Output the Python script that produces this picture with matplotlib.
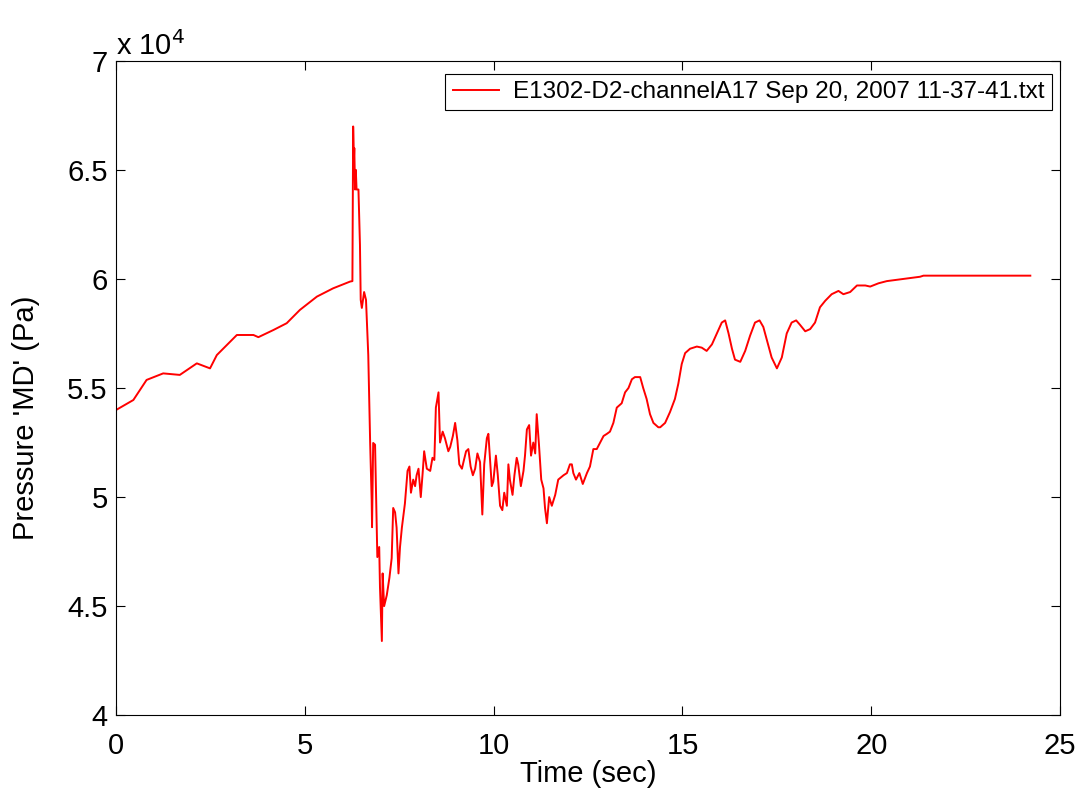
import numpy as np
import matplotlib
matplotlib.use("Agg")
import matplotlib.pyplot as plt
from matplotlib.ticker import FuncFormatter

# readings (time in s, pressure in Pa)
t_pre = [0.0, 0.46, 0.81, 1.25, 1.69, 2.14, 2.49, 2.67, 3.20, 3.64, 3.77, 4.17,
         4.52, 4.87, 5.32, 5.75, 6.20, 6.26]
p_pre = [53990, 54450, 55370, 55670, 55600, 56130, 55900, 56510, 57430, 57430, 57330, 57660,
         57970, 58580, 59190, 59570, 59880, 59900]

t_spike = [6.28, 6.30, 6.31, 6.33, 6.35, 6.37, 6.42, 6.46, 6.48, 6.51, 6.57, 6.62,
           6.68, 6.73, 6.77, 6.78, 6.81, 6.86, 6.89, 6.92, 6.97, 6.99, 7.04, 7.06,
           7.10, 7.17, 7.24, 7.30, 7.34, 7.39, 7.43, 7.48, 7.52, 7.57, 7.65]
p_spike = [66990, 65500, 66000, 64100, 65000, 64100, 64100, 61560, 59040, 58670, 59400, 59040,
           56510, 52480, 49860, 48620, 52480, 52400, 49860, 47250, 47710, 45870, 43400, 46500,
           45000, 45500, 46300, 47200, 49500, 49300, 48600, 46500, 47700, 48600, 49700]

t_noisy = [7.72, 7.77, 7.81, 7.87, 7.92, 7.96, 8.01, 8.07, 8.12, 8.16, 8.23, 8.32,
           8.38, 8.43, 8.47, 8.54, 8.58, 8.65, 8.71, 8.80, 8.85, 8.92, 8.98, 9.04,
           9.09, 9.16, 9.20, 9.27, 9.33, 9.39, 9.45, 9.51, 9.57, 9.64, 9.70, 9.75,
           9.82, 9.86, 9.90, 9.95, 9.99, 10.06, 10.11, 10.17, 10.23, 10.28, 10.35, 10.39,
           10.43, 10.50, 10.55, 10.61, 10.65, 10.72, 10.79, 10.83, 10.88, 10.94, 10.99, 11.05,
           11.10, 11.14, 11.20, 11.26, 11.32, 11.36, 11.41, 11.47, 11.54, 11.63]
p_noisy = [51200, 51400, 50200, 50800, 50500, 51000, 51300, 50000, 51100, 52100, 51300, 51200,
           51800, 51700, 54100, 54800, 52500, 53000, 52700, 52100, 52300, 52800, 53400, 52600,
           51500, 51300, 51600, 52100, 52200, 51400, 51000, 51300, 52000, 51600, 49200, 51500,
           52700, 52900, 51800, 50500, 50700, 51900, 51000, 49600, 49400, 50200, 49600, 51500,
           50800, 50100, 51000, 51800, 51500, 50500, 51200, 51900, 53100, 53300, 51900, 52500,
           52000, 53800, 52400, 50800, 50400, 49500, 48800, 50000, 49600, 50100]

t_rise = [11.71, 11.78, 11.85, 11.94, 12.02, 12.07, 12.11, 12.18, 12.27, 12.36, 12.47, 12.55,
          12.64, 12.73, 12.82, 12.91, 13.00, 13.08, 13.17, 13.26, 13.39, 13.48, 13.57, 13.66,
          13.74, 13.88, 13.96, 14.05, 14.14, 14.23, 14.36, 14.41, 14.54, 14.67, 14.80, 14.89,
          14.98, 15.07, 15.20, 15.38, 15.51, 15.64, 15.78, 15.91, 16.04, 16.13, 16.22, 16.31,
          16.39, 16.53, 16.66, 16.79, 16.92, 17.04, 17.14, 17.28, 17.36, 17.50, 17.63, 17.76,
          17.89, 18.01, 18.11, 18.25, 18.38, 18.51, 18.64, 18.78, 18.95, 19.13, 19.26, 19.44,
          19.62, 19.84, 19.97, 20.19, 20.41, 20.85, 21.29, 21.38, 24.21]
p_rise = [50800, 50900, 51000, 51100, 51500, 51500, 51100, 50800, 51100, 50600, 51100, 51400,
          52200, 52200, 52500, 52800, 52900, 53000, 53400, 54100, 54300, 54800, 55000, 55400,
          55500, 55500, 55000, 54500, 53800, 53400, 53200, 53200, 53400, 53900, 54500, 55200,
          56100, 56600, 56800, 56900, 56850, 56700, 57000, 57500, 58000, 58100, 57500, 56800,
          56300, 56200, 56700, 57400, 58000, 58100, 57800, 56900, 56400, 55900, 56400, 57500,
          58000, 58100, 57900, 57600, 57700, 58000, 58700, 59000, 59300, 59450, 59300, 59400,
          59700, 59700, 59650, 59800, 59900, 60000, 60100, 60150, 60150]

time = np.array(t_pre + t_spike + t_noisy + t_rise)
pressure = np.array(p_pre + p_spike + p_noisy + p_rise)

series_label = "E1302-D2-channelA17 Sep 20, 2007 11-37-41.txt"

plt.rcParams['font.family'] = ['Liberation Sans', 'DejaVu Sans']

fig = plt.figure(figsize=(10.84, 8.0), dpi=100)
ax = fig.add_axes([0.107, 0.106, 0.871, 0.818])

ax.plot(time, pressure, color='red', lw=1.4, label=series_label)

ax.set_xlim(0, 25)
ax.set_ylim(40000, 70000)
ax.set_xticks(np.arange(0, 26, 5))
ax.set_yticks(np.arange(40000, 70001, 5000))
ax.yaxis.set_major_formatter(FuncFormatter(lambda v, pos: f"{v / 1e4:g}"))

ax.tick_params(direction='in', length=6.5, width=0.8, top=True, right=True,
               labelsize=21)
ax.tick_params(axis='x', pad=12)
ax.tick_params(axis='y', pad=6)
for s in ax.spines.values():
    s.set_linewidth(0.8)

ax.set_xlabel("Time (sec)", fontsize=21, labelpad=0)
ax.set_ylabel("Pressure 'MD' (Pa)", fontsize=21)
ax.yaxis.set_label_coords(-0.08, 0.455)

ax.text(0.0, 1.0, r"x 10$^{4}$", transform=ax.transAxes, fontsize=21,
        ha='left', va='bottom')

leg = ax.legend(loc='upper right', bbox_to_anchor=(0.9915, 0.98), borderaxespad=0,
                fontsize=17.5, handlelength=1.9, handletextpad=0.6,
                fancybox=False, framealpha=1, edgecolor='black', borderpad=0.3)
leg.get_frame().set_linewidth(0.8)

fig.savefig("out.png", dpi=100)
